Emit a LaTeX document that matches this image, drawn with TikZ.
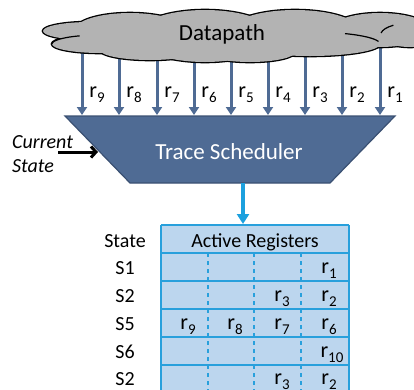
\documentclass[tikz,border=0pt]{standalone}
\usepackage{fontspec}
\setmainfont{Carlito}
\usetikzlibrary{arrows.meta}
\definecolor{cloudgray}{RGB}{179,179,179}
\definecolor{steel}{RGB}{79,107,148}
\definecolor{steeldark}{RGB}{58,80,114}
\definecolor{cyanb}{RGB}{28,160,222}
\definecolor{tblfill}{RGB}{188,214,238}
\definecolor{tblline}{RGB}{40,160,220}
\newcommand\rsub[1]{{\fontsize{22}{24}\selectfont r}\raisebox{-5pt}{\fontsize{15}{15}\selectfont #1}}
\begin{document}
\begin{tikzpicture}[x=1pt,y=-1pt,
  lbl/.style={font=\fontsize{20}{24}\selectfont, inner sep=0pt, anchor=base},
  big/.style={font=\fontsize{23}{27}\selectfont, inner sep=0pt, anchor=base},
  regarrow/.style={steel, line width=3pt, -{Triangle[length=8pt,width=10pt]}},
  outarrow/.style={cyanb, line width=3.5pt, -{Triangle[length=10pt,width=12pt]}},
  statearrow/.style={black, line width=3pt, -{Straight Barb[length=5pt,width=11pt]}},
  tline/.style={tblline, line width=1.2pt},
  tdash/.style={tblline, line width=1.2pt, dash pattern=on 4pt off 4pt}]
\useasboundingbox (0,0) rectangle (414,389);
\begin{scope}
\clip (0,0) rectangle (414,389);
% register arrows (behind the cloud)
\foreach \x [count=\i] in {82,119,157,194,231,268,305,342,380} {
  \coordinate (s\i) at (\x,40);
  \coordinate (e\i) at (\x,115);
  \draw[regarrow] (s\i) -- (e\i);
}
% cloud
\foreach \cx/\cy/\rx/\ry in {90/31/47/9, 100/44/48/9, 130/30/55/17, 150/50/50/10, 205/36/70/26, 250/52/45/10, 295/31/65/21, 310/44/70/12, 380/30/50/17, 410/35/30/12}
  \draw[black, line width=2.6pt] (\cx,\cy) ellipse[x radius=\rx pt, y radius=\ry pt];
\foreach \cx/\cy/\rx/\ry in {90/31/47/9, 100/44/48/9, 130/30/55/17, 150/50/50/10, 205/36/70/26, 250/52/45/10, 295/31/65/21, 310/44/70/12, 380/30/50/17, 410/35/30/12}
  \fill[cloudgray] (\cx,\cy) ellipse[x radius=\rx pt, y radius=\ry pt];
\draw[black, line width=1.2pt] (52,44) arc[start angle=180, end angle=115, x radius=48pt, y radius=9pt];
\draw[black, line width=1.2pt] (345,33.6) arc[start angle=60, end angle=12, x radius=70pt, y radius=12pt];
\draw[black, line width=1.2pt] (381,33) arc[start angle=170, end angle=125, x radius=30pt, y radius=12pt];
\node[big] (dp) at (222,40) {Datapath};
% register labels
\foreach \x [count=\i] in {82,119,157,194,231,268,305,342,380} {
  \pgfmathtruncatemacro{\n}{10-\i}
  \node[lbl] (l\i) at (\x+15,97) {\rsub{\n}};
}
% trace scheduler
\draw[fill=steel, draw=steeldark, line width=1.2pt] (65,116) -- (395,116) -- (330,183) -- (130,183) -- cycle;
\node[big, text=white] (ts) at (229,159) {Trace Scheduler};
\coordinate (tsbot) at (243,183);
\coordinate (tsleft) at (98,152);
% current state
\node[lbl, anchor=base west] (cur) at (12,148) {\itshape Current};
\node[lbl, anchor=base west] (st) at (12,172) {\itshape State};
\coordinate (csstart) at (58,152);
\draw[statearrow] (csstart) -- (tsleft);
% table
\fill[tblfill] (161,225) rectangle (349,400);
\foreach \y in {225,253,281,309,337,365} \draw[tline] (161,\y) -- (349,\y);
\draw[tline] (161,225) -- (161,400);
\draw[tline] (349,225) -- (349,400);
\foreach \x in {208,254,301} \draw[tdash] (\x,253) -- (\x,400);
\coordinate (tbltop) at (243,224);
\draw[outarrow] (tsbot) -- (tbltop);
\node[lbl, anchor=base] (hstate) at (125,247) {State};
\node[lbl, anchor=base] (hact) at (255,247) {Active Registers};
\node[lbl] (k1) at (125,274) {S1};
\node[lbl] (k2) at (125,302) {S2};
\node[lbl] (k3) at (125,330) {S5};
\node[lbl] (k4) at (125,358) {S6};
\node[lbl] (k5) at (125,385) {S2};
\node[lbl] (c14) at (329,273) {\rsub{1}};
\node[lbl] (c23) at (282,301) {\rsub{3}};
\node[lbl] (c24) at (329,301) {\rsub{2}};
\node[lbl] (c31) at (188,329) {\rsub{9}};
\node[lbl] (c32) at (235,329) {\rsub{8}};
\node[lbl] (c33) at (282,329) {\rsub{7}};
\node[lbl] (c34) at (329,329) {\rsub{6}};
\node[lbl] (c44) at (332,357) {\rsub{10}};
\node[lbl] (c53) at (282,384) {\rsub{3}};
\node[lbl] (c54) at (329,384) {\rsub{2}};
\end{scope}
\end{tikzpicture}
\end{document}
